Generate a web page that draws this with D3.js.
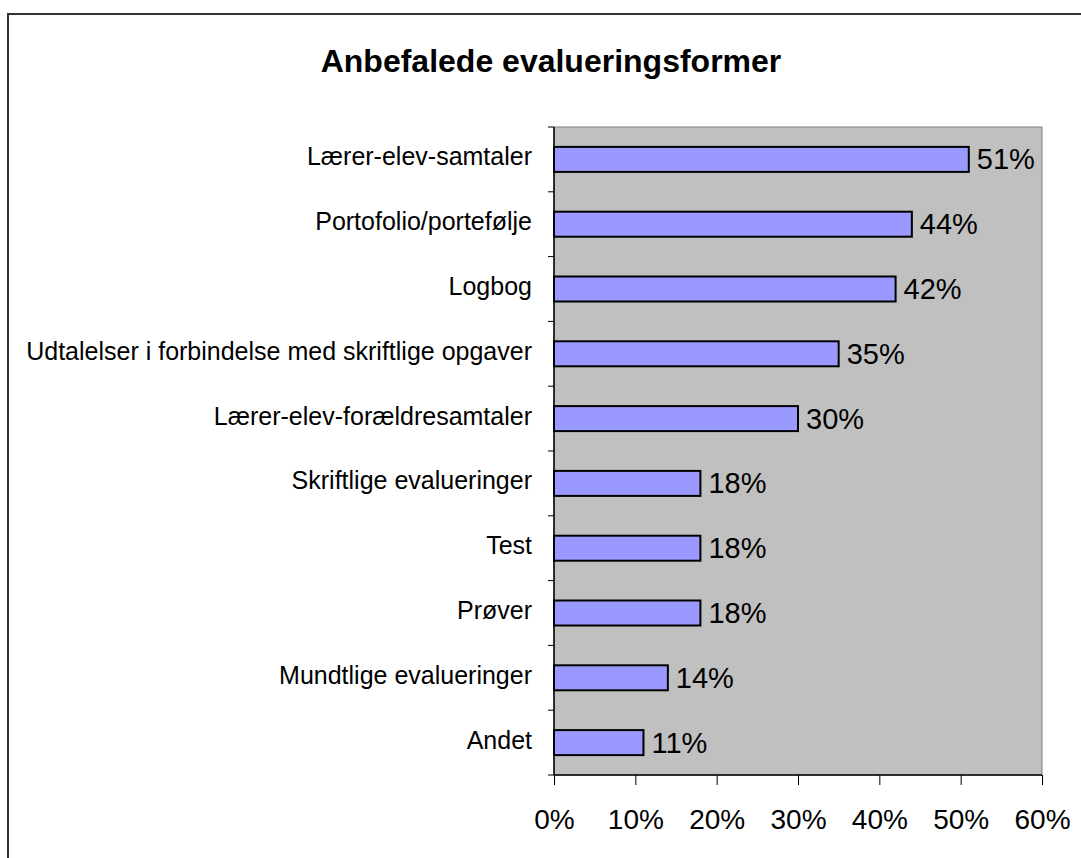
<!DOCTYPE html>
<html>
<head>
<meta charset="utf-8">
<script src="https://cdn.jsdelivr.net/npm/d3@7"></script>
<style>
  body { margin: 0; background: #fff; }
  svg { display: block; font-family: "Liberation Sans", Arial, sans-serif; }
</style>
</head>
<body>
<div id="chart"></div>
<script>
// data
var categories = ["Lærer-elev-samtaler", "Portofolio/portefølje", "Logbog",
	"Udtalelser i forbindelse med skriftlige opgaver", "Lærer-elev-forældresamtaler",
	"Skriftlige evalueringer", "Test", "Prøver", "Mundtlige evalueringer", "Andet"];
var values = [51, 44, 42, 35, 30, 18, 18, 18, 14, 11];
var xTicks = [0, 10, 20, 30, 40, 50, 60];

var W = 1081, H = 858;
var plot = {left: 554, top: 127, right: 1042, bottom: 775};

var svg = d3.select("#chart").append("svg")
	.attr("width", W).attr("height", H);

// outer frame
svg.append("rect")
	.attr("x", 8).attr("y", 14)
	.attr("width", W + 20).attr("height", H + 20)
	.attr("fill", "none").attr("stroke", "#333").attr("stroke-width", 2);

svg.append("text")
	.attr("x", 551).attr("y", 72)
	.attr("text-anchor", "middle")
	.attr("font-size", 32).attr("font-weight", "bold")
	.text("Anbefalede evalueringsformer");

var x = d3.scaleLinear().domain([0, 60]).range([plot.left, plot.right]);
var y = d3.scaleBand().domain(categories).range([plot.top, plot.bottom]);

svg.append("rect")
	.attr("x", plot.left).attr("y", plot.top)
	.attr("width", plot.right - plot.left).attr("height", plot.bottom - plot.top)
	.attr("fill", "#c0c0c0").attr("stroke", "#808080").attr("stroke-width", 1);

var barH = 25;
svg.selectAll("rect.bar")
	.data(values)
	.enter().append("rect")
	.attr("class", "bar")
	.attr("x", x(0))
	.attr("y", function(d, i) { return y(categories[i]) + y.bandwidth() / 2 - barH / 2; })
	.attr("width", function(d) { return x(d) - x(0); })
	.attr("height", barH)
	.attr("fill", "#9999ff").attr("stroke", "#000").attr("stroke-width", 2);

svg.selectAll("text.val")
	.data(values)
	.enter().append("text")
	.attr("class", "val")
	.attr("x", function(d) { return x(d) + 8; })
	.attr("y", function(d, i) { return y(categories[i]) + y.bandwidth() / 2 + 10; })
	.attr("font-size", 29)
	.text(function(d) { return d + "%"; });

// category axis: ticks on band edges
var yAxis = svg.append("g");
yAxis.append("line")
	.attr("x1", plot.left).attr("x2", plot.left)
	.attr("y1", plot.top).attr("y2", plot.bottom)
	.attr("stroke", "#000").attr("stroke-width", 1.5);
var edges = categories.map(function(c) { return y(c); }).concat([plot.bottom]);
yAxis.selectAll("line.tick")
	.data(edges)
	.enter().append("line")
	.attr("class", "tick")
	.attr("x1", plot.left - 6).attr("x2", plot.left)
	.attr("y1", function(d) { return d; }).attr("y2", function(d) { return d; })
	.attr("stroke", "#000").attr("stroke-width", 1);
yAxis.selectAll("text")
	.data(categories)
	.enter().append("text")
	.attr("x", 532)
	.attr("y", function(d) { return y(d) + y.bandwidth() / 2 + 6; })
	.attr("text-anchor", "end")
	.attr("font-size", 25)
	.text(function(d) { return d; });

// value axis
var xAxis = svg.append("g")
	.attr("transform", "translate(0," + plot.bottom + ")")
	.call(d3.axisBottom(x).tickValues(xTicks).tickSize(10).tickPadding(24)
		.tickFormat(function(d) { return d + "%"; }));
xAxis.select(".domain").attr("stroke", "#000").attr("stroke-width", 1.5)
	.attr("d", "M" + plot.left + ",0H" + plot.right);
xAxis.selectAll(".tick line").attr("stroke", "#000");
xAxis.selectAll(".tick text")
	.attr("font-size", 28).attr("font-family", "Liberation Sans, Arial, sans-serif")
	.attr("fill", "#000");
</script>
</body>
</html>
